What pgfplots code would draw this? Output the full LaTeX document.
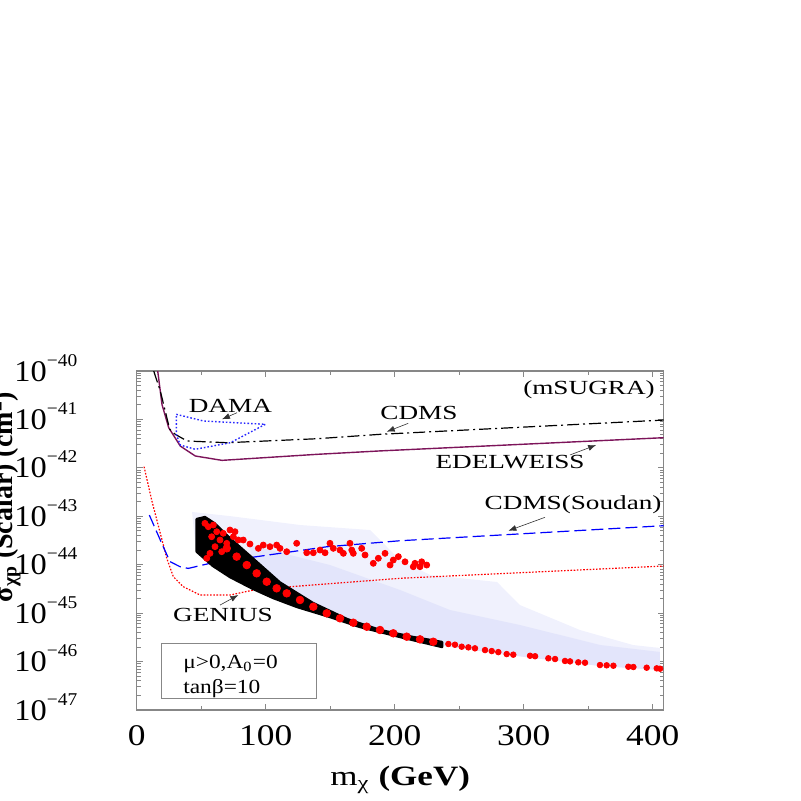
\documentclass[border=0pt]{standalone}
\usepackage{fontspec}
\setmainfont{Liberation Serif}
\usepackage{pgfplots}
\pgfplotsset{compat=1.18}
\usetikzlibrary{arrows.meta}

\definecolor{edel}{RGB}{125,20,90}
\definecolor{framegray}{RGB}{135,135,135}
\definecolor{cloudout}{RGB}{240,241,253}
\definecolor{cloudin}{RGB}{227,229,251}
\definecolor{damablue}{RGB}{40,40,255}

% y tick label 10^-n in the text font
\newcommand{\tl}[1]{10\raisebox{7.5pt}{\fontsize{9}{10}\selectfont −#1}}

\begin{document}
\begin{tikzpicture}
\begin{axis}[
    scale only axis,
    width=263.5pt, height=169.5pt,
    xmin=0, xmax=408.5,
    ymode=log, ymin=1e-47, ymax=1e-40,
    axis line style={framegray, line width=0.6pt},
    tick style={framegray, line width=0.5pt},
    major tick length=3pt, minor tick length=2pt,
    xtick={0,100,200,300,400}, minor x tick num=1,
    ytick={1e-47,1e-46,1e-45,1e-44,1e-43,1e-42,1e-41,1e-40},
    yticklabels={\tl{47},\tl{46},\tl{45},\tl{44},\tl{43},\tl{42},\tl{41},\tl{40}},
    /pgf/number format/assume math mode=true,
    xticklabel style={font=\fontsize{15}{15}\selectfont, xscale=1.18, yshift=-4pt},
    yticklabel style={font=\fontsize{15}{15}\selectfont, xscale=1.08, anchor=base east, yshift=-5pt, xshift=-24pt},
    xlabel={m\textsubscript{χ} \textbf{(GeV)}},
    xlabel style={at={(axis description cs:0.5,0)}, anchor=base, yshift=-37.5pt,
                  font=\fontsize{14}{14}\selectfont, xscale=1.25},
    every node/.append style={font=\fontsize{12}{12}\selectfont},
]

% scatter of all models (drawn as light areas, denser near the band)
\addplot[draw=none, fill=cloudout] coordinates {
    (42.9,1.23e-43) (72.3,1.01e-43) (126.8,6.61e-44) (180.9,5.21e-44)
    (204.1,1.25e-44) (227.4,6.14e-45) (279.3,4.40e-45) (297.1,1.47e-45)
    (343.6,4.49e-46) (384.7,2.20e-46) (405.6,1.91e-46)
    (405.6,6.70e-47) (359.3,8.11e-47) (320.4,1.08e-46) (281.6,1.44e-46)
    (239.0,2.10e-46) (204.1,3.37e-46) (149.8,8.34e-46) (90.2,3.16e-45)
    (59.1,9.42e-45) (46.0,1.83e-44)
} -- cycle;
\addplot[draw=none, fill=cloudin] coordinates {
    (87.8,2.55e-44) (149.8,9.86e-45) (204.1,3.01e-45) (242.9,1.16e-45)
    (297.1,5.69e-46) (359.3,2.20e-46) (405.6,1.58e-46)
    (405.6,6.70e-47) (359.3,8.11e-47) (281.6,1.44e-46) (239.0,2.10e-46)
    (204.1,3.37e-46) (149.8,8.34e-46) (90.2,3.16e-45)
} -- cycle;

% GENIUS
\addplot[red, line width=0.6pt, dash pattern=on 0.8pt off 0.8pt] coordinates {
    (5.7,1.06e-42) (11.6,2.17e-43) (23.3,1.36e-44) (28.4,5.66e-45) (36.1,3.52e-45)
    (49.1,2.37e-45) (72.3,2.37e-45) (93.0,3.1e-45) (204.1,5.25e-45) (408.5,9.4e-45)
};
% CDMS (Soudan)
\addplot[blue, line width=0.6pt, dash pattern=on 6pt off 2.5pt] coordinates {
    (9.8,1.06e-43) (19.4,2.77e-44) (25.8,1.16e-44) (33.6,9.1e-45) (40.0,8.4e-45)
    (56.8,1.07e-44) (111.1,1.72e-44) (147.3,2.35e-44) (204.1,3.13e-44) (408.5,6.4e-44)
};
% EDELWEISS
\addplot[edel, line width=0.7pt] coordinates {
    (16.3,1.0e-40) (19.6,2.04e-41) (24.8,6.76e-42) (33.8,2.82e-42) (45.4,1.76e-42)
    (66.1,1.43e-42) (139.8,1.905e-42) (188.6,2.24e-42) (408.5,4.2e-42)
};
% CDMS
\addplot[black, line width=0.6pt, dash pattern=on 6pt off 2pt on 1pt off 2pt] coordinates {
    (13.2,1.0e-40) (18.3,3.86e-41) (25.6,6.25e-42) (29.9,4.93e-42) (39.0,3.59e-42)
    (70.0,3.31e-42) (139.8,4.0e-42) (188.6,4.93e-42) (408.5,9.72e-42)
};
% DAMA region
\addplot[damablue, line width=0.7pt, dash pattern=on 0.8pt off 1pt] coordinates {
    (30.7,1.276e-41) (51.9,9.29e-42) (99.7,7.94e-42) (72.6,3.31e-42)
    (45.4,2.42e-42) (33.8,2.96e-42) (30.7,4.93e-42) (30.7,1.276e-41)
};

% band of models passing the constraints (black)
\addplot[draw=black, fill=black, line width=1.2pt, line join=round] coordinates {
    (46.5,8.79e-44) (52.9,9.66e-44) (60.4,7.16e-44) (68.2,4.46e-44) (78.3,2.55e-44)
    (88.5,1.47e-44) (111.1,4.30e-45) (136.7,1.62e-45) (163.0,7.57e-46) (188.6,4.49e-46)
    (214.2,3.22e-46) (236.7,2.54e-46) (236.7,2.00e-46) (204.1,3.22e-46) (173.1,5.18e-46)
    (149.8,8.34e-46) (124.3,1.34e-45) (105.7,2.06e-45) (90.2,3.16e-45) (72.3,5.57e-45)
    (59.1,9.42e-45) (46.5,1.86e-44)
} -- cycle;

% red models along the band
\addplot[only marks, mark=*, mark size=1.9pt, red] coordinates {
    (69.8,2.18e-44) (77.5,1.47e-44) (85.3,9.86e-45) (93.0,6.65e-45) (100.8,4.46e-45)
    (108.5,3.26e-45) (116.3,2.57e-45) (126.6,1.87e-45) (136.9,1.36e-45) (147.3,9.93e-46)
    (157.6,7.83e-46) (167.9,6.35e-46) (178.3,5.25e-46) (188.6,4.49e-46) (198.9,3.84e-46)
    (209.3,3.27e-46) (219.6,2.88e-46) (229.9,2.57e-46)
};
\addplot[only marks, mark=*, mark size=1.4pt, red] coordinates {
    (241.6,2.31e-46) (246.7,2.23e-46) (251.9,2.03e-46) (257.1,1.97e-46) (262.2,1.88e-46)
    (270.0,1.73e-46) (275.2,1.65e-46) (280.3,1.57e-46) (286.8,1.43e-46) (291.9,1.39e-46)
    (304.9,1.32e-46) (308.8,1.29e-46) (319.1,1.17e-46) (324.3,1.13e-46) (332.0,1.03e-46)
    (335.9,1.01e-46) (342.3,9.66e-47) (347.5,9.48e-47) (359.1,8.49e-47) (364.3,8.37e-47)
    (369.5,8.22e-47) (381.1,7.83e-47) (385.0,7.73e-47) (395.3,7.48e-47) (403.1,7.26e-47)
    (405.7,7.13e-47)
};
% red models above the band
\addplot[only marks, mark=*, mark size=1.5pt, red] coordinates {
    (52.9,7.16e-44) (55.5,6.10e-44) (59.4,6.61e-44) (62.0,4.81e-44) (58.1,3.79e-44)
    (64.6,3.24e-44) (60.7,2.36e-44) (56.8,1.72e-44) (54.3,1.36e-44) (67.1,4.46e-44)
    (72.3,5.21e-44) (76.2,4.81e-44) (69.8,2.77e-44) (65.9,1.86e-44) (74.9,3.79e-44)
    (78.8,3.24e-44) (82.6,3.24e-44) (87.8,2.68e-44) (94.3,2.18e-44) (98.1,2.55e-44)
    (103.3,2.36e-44) (108.5,2.55e-44) (111.1,2.18e-44) (116.3,1.86e-44) (124.0,2.77e-44)
    (131.8,1.77e-44) (136.9,1.77e-44) (142.1,2.01e-44) (146.0,1.77e-44) (149.8,2.77e-44)
    (152.4,2.18e-44) (157.6,2.01e-44) (160.2,1.72e-44) (165.3,2.77e-44) (166.7,2.01e-44)
    (167.9,1.72e-44) (174.4,2.18e-44) (177.0,1.59e-44) (183.4,1.07e-44) (187.3,1.36e-44)
    (192.5,1.72e-44) (196.4,9.86e-45) (198.9,1.25e-44) (202.8,1.47e-44) (208.0,1.15e-44)
    (214.4,9.10e-45) (215.7,1.07e-44) (219.6,9.10e-45) (220.9,1.15e-44) (224.8,9.86e-45)
};

% labels and arrows
\node[xscale=1.36] at (axis cs:72.6,1.89e-41) {DAMA};
\draw[-{Latex[length=4pt,width=3pt]}, gray!40!black, line width=0.3pt]
    (axis cs:77.8,1.38e-41) -- (axis cs:66.1,1.01e-41);
\node[xscale=1.36] at (axis cs:218.8,1.36e-41) {CDMS};
\draw[-{Latex[length=4pt,width=3pt]}, gray!40!black, line width=0.3pt]
    (axis cs:210.5,8.32e-42) -- (axis cs:193.8,5.58e-42);
\node[xscale=1.36] at (axis cs:289.4,1.29e-42) {EDELWEISS};
\draw[-{Latex[length=4pt,width=3pt]}, gray!40!black, line width=0.3pt]
    (axis cs:335.9,1.85e-42) -- (axis cs:356.1,2.96e-42);
\node[xscale=1.36] at (axis cs:338.3,1.71e-43) {CDMS(Soudan)};
\draw[-{Latex[length=4pt,width=3pt]}, gray!40!black, line width=0.3pt]
    (axis cs:316.5,9.53e-44) -- (axis cs:288.1,5.04e-44);
\node[xscale=1.36] at (axis cs:66.9,9.16e-46) {GENIUS};
\draw[-{Latex[length=4pt,width=3pt]}, gray!40!black, line width=0.3pt]
    (axis cs:64.6,1.47e-45) -- (axis cs:78.8,2.37e-45);
\node[xscale=1.36] at (axis cs:350.6,4.06e-41) {(mSUGRA)};

% parameter box
\draw[framegray, line width=0.5pt] (axis cs:19.4,2.38e-46) rectangle (axis cs:139.5,1.75e-47);
\node[anchor=base west, xscale=1.17] at (axis cs:29.7,7.36e-47) {μ>0,A\textsubscript{0}=0};
\node[anchor=base west, xscale=1.17] at (axis cs:29.7,2.24e-47) {tanβ=10};
\end{axis}

% y axis title (mostly outside the page, as in the original figure)
\node[rotate=90, anchor=base, font=\bfseries\fontsize{14}{14}\selectfont]
    at ([xshift=-62.3pt, yshift=106.5pt]current axis.south west)
    {σ\textsubscript{χp} (Scalar) (cm\textsuperscript{2})};

\pgfresetboundingbox
\path[use as bounding box] (-68.35pt,-45.5pt) rectangle (332.15pt,355pt);
\end{tikzpicture}
\end{document}
